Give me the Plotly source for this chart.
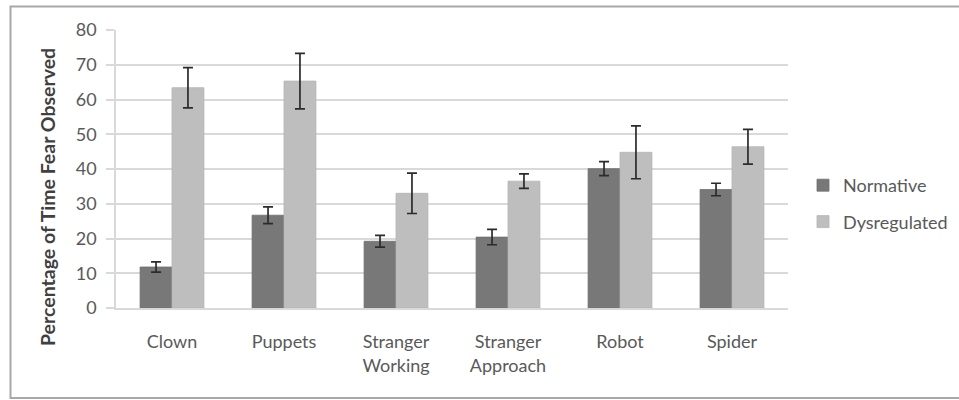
import plotly.graph_objects as go

categories = ["Clown", "Puppets", "Stranger<br>Working", "Stranger<br>Approach", "Robot", "Spider"]
normative = [11.8, 26.7, 19.2, 20.4, 40.1, 34.1]
normative_err = [1.5, 2.4, 1.7, 2.2, 2.0, 1.8]
dysregulated = [63.4, 65.3, 33.0, 36.5, 44.8, 46.4]
dysregulated_err = [5.8, 8.0, 5.8, 2.1, 7.6, 5.0]
y_ticks = [0, 10, 20, 30, 40, 50, 60, 70, 80]

FONT = "Lato, 'Open Sans', sans-serif"
TEXT_GRAY = "#595959"
GRID = "#d9d9d9"

W, H = 959, 400
L, R, T, B = 116, 171, 30, 92
PW, PH = W - L - R, H - T - B

fig = go.Figure()
err_style = dict(type="data", visible=True, color="#2b2b2b", thickness=1.7, width=5)

fig.add_trace(go.Bar(
    name="Normative", x=categories, y=normative,
    marker=dict(color="#787878", line=dict(color="#6e6e6e", width=0.8)),
    error_y=dict(array=normative_err, **err_style),
    legendgroup="n",
))
fig.add_trace(go.Bar(
    name="Dysregulated", x=categories, y=dysregulated,
    marker=dict(color="#bebebe", line=dict(color="#b4b4b4", width=0.8)),
    error_y=dict(array=dysregulated_err, **err_style),
    legendgroup="d",
))

fig.update_layout(
    width=W, height=H,
    margin=dict(l=L, r=R, t=T, b=B, autoexpand=False),
    paper_bgcolor="white", plot_bgcolor="white",
    barmode="group", bargap=0.43, bargroupgap=0,
    font=dict(family=FONT, size=17, color=TEXT_GRAY),
    legend=dict(
        x=(803 - L) / PW, y=1 - (167 - T) / PH,
        xanchor="left", yanchor="top",
        traceorder="grouped", tracegroupgap=10, itemwidth=30,
        font=dict(family=FONT, size=18, color=TEXT_GRAY),
        bgcolor="rgba(0,0,0,0)",
    ),
    xaxis=dict(
        showline=True, linecolor=GRID, linewidth=1.5,
        ticks="", showgrid=False,
        tickfont=dict(family=FONT, size=18, color=TEXT_GRAY),
        ticklabelstandoff=17,
    ),
    yaxis=dict(
        range=[0, 80], tickvals=y_ticks,
        showgrid=True, gridcolor=GRID, gridwidth=1.5,
        showline=True, linecolor=GRID, linewidth=1.5,
        ticks="outside", ticklen=8, tickcolor=GRID, tickwidth=1.5,
        zeroline=False,
        tickfont=dict(family=FONT, size=18, color=TEXT_GRAY),
        ticklabelstandoff=6,
    ),
    shapes=[
        dict(type="rect", xref="paper", yref="paper",
             x0=(10.5 - L) / PW, x1=(965 - L) / PW,
             y0=1 - (398 - T) / PH, y1=1 - (6.5 - T) / PH,
             line=dict(color="#a8a8a8", width=2), fillcolor="rgba(0,0,0,0)", layer="below"),
    ],
    annotations=[
        dict(text="Percentage of Time Fear Observed", textangle=-90,
             xref="paper", yref="paper",
             x=(47 - L) / PW, y=1 - (197 - T) / PH,
             xanchor="center", yanchor="middle", showarrow=False,
             font=dict(family=FONT, size=19.5, color="#404040", weight="bold")),
    ],
)

fig.write_html("out.html")
